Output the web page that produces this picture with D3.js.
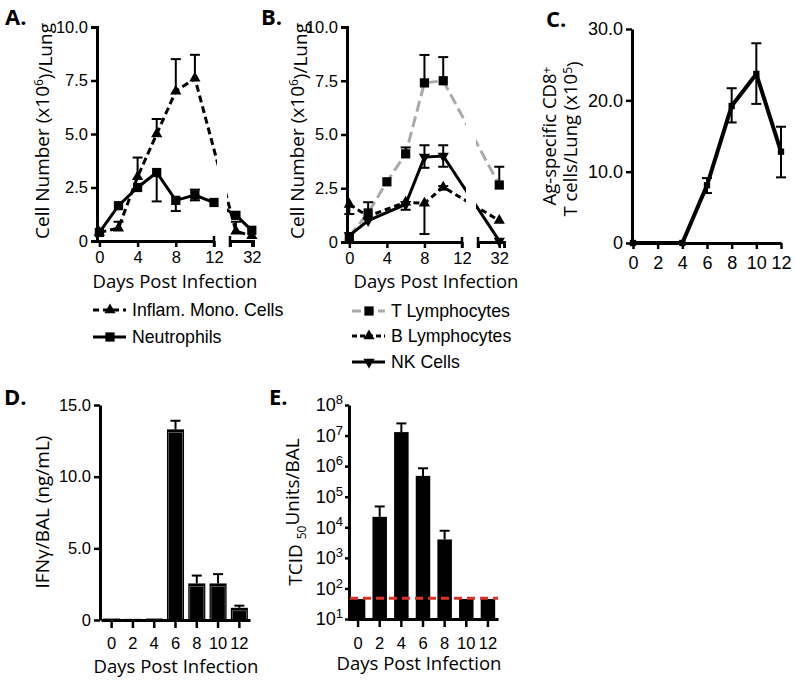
<!DOCTYPE html>
<html>
<head>
<meta charset="utf-8">
<script src="https://cdn.jsdelivr.net/npm/d3@7"></script>
<style>
  body { margin: 0; background: #fff; }
  svg { display: block; }
</style>
</head>
<body>
<div id="chart"></div>
<script>
// ---- Panel A: inflammatory cells ----
const daysMonoA = [0, 2, 4, 6, 8, 10, 28, 32];
const monoA     = [0.4, 0.6, 3.0, 5.0, 7.0, 7.6, 0.45, 0.25];
const monoA_lo  = [0.4, 0.6, 3.0, 5.0, 7.0, 7.6, 0.45, 0.25];
const monoA_hi  = [0.4, 0.9, 3.9, 5.7, 8.5, 8.7, 0.9, 0.25];
const daysNeuA  = [0, 2, 4, 6, 8, 10, 12, 28, 32];
const neuA      = [0.4, 1.65, 2.5, 3.2, 1.9, 2.15, 1.8, 1.2, 0.5];
const neuA_lo   = [0.4, 1.65, 2.5, 1.85, 1.4, 1.9, 1.8, 1.2, 0.5];
const neuA_hi   = [0.4, 1.65, 2.5, 3.2, 1.9, 2.4, 1.8, 1.2, 0.5];

// ---- Panel B: lymphocytes ----
const daysTB = [0, 2, 4, 6, 8, 10, 32];
const tB     = [0.25, 1.35, 2.8, 4.1, 7.4, 7.5, 2.65];
const tB_lo  = [0.25, 1.35, 2.8, 4.1, 7.4, 7.5, 2.65];
const tB_hi  = [0.25, 1.85, 2.8, 4.4, 8.7, 8.6, 3.5];
const daysOtherB = [0, 2, 6, 8, 10, 32];
const bB     = [1.75, 1.2, 1.85, 1.8, 2.55, 1.0];
const bB_lo  = [1.3, 1.2, 1.85, 0.37, 2.45, 1.0];
const bB_hi  = [1.75, 1.2, 1.85, 1.8, 2.6, 1.0];
const nkB    = [0.3, 1.0, 1.75, 3.95, 4.0, 0.05];
const nkB_lo = [0.3, 1.0, 1.5, 3.45, 3.5, 0.05];
const nkB_hi = [0.3, 1.0, 1.75, 4.5, 4.5, 0.05];

const cellTicks = [0, 2.5, 5, 7.5, 10];
const leftDayTicks = [0, 4, 8, 12];
const rightDayTicks = [32];

// ---- Panel C: Ag-specific CD8+ ----
const daysC  = [0, 4, 6, 8, 10, 12];
const cd8C    = [0, 0, 8.1, 19.2, 23.7, 12.8];
const cd8C_lo = [0, 0, 7.0, 16.9, 19.5, 9.2];
const cd8C_hi = [0, 0, 9.1, 21.7, 28.0, 16.3];
const cd8Ticks = [0, 10, 20, 30];
const dayTicksC = [0, 2, 4, 6, 8, 10, 12];

// ---- Panel D: IFNg ----
const daysD  = ["0", "2", "4", "6", "8", "10", "12"];
const ifnD    = [0.1, 0.08, 0.1, 13.3, 2.55, 2.55, 0.85];
const ifnD_hi = [0.1, 0.08, 0.1, 13.9, 3.1, 3.2, 1.0];
const ifnTicks = [0, 5, 10, 15];

// ---- Panel E: TCID50 ----
const daysE  = ["0", "2", "4", "6", "8", "10", "12"];
const tcidE    = [45, 2.2e4, 1.3e7, 4.8e5, 4.0e3, 45, 45];
const tcidE_hi = [45, 4.8e4, 2.5e7, 8.5e5, 7.7e3, 45, 45];
const detectE  = 48;
const tcidTicks = [1e1, 1e2, 1e3, 1e4, 1e5, 1e6, 1e7, 1e8];

const tickFont = "Liberation Sans, Arial, sans-serif";
const titleFont = "Open Sans, sans-serif";

const svg = d3.select("#chart").append("svg")
    .attr("width", 794)
    .attr("height", 686);

function styleAxis(sel, size) {
    sel.attr("font-family", tickFont).attr("font-size", size);
    sel.select(".domain").attr("stroke-width", 3).attr("stroke", "#000");
    sel.selectAll(".tick line").attr("stroke-width", 2.5).attr("stroke", "#000");
    sel.selectAll(".tick text").attr("fill", "#000");
}

function panelLabel(txt, x, y) {
    svg.append("text").attr("x", x).attr("y", y)
        .attr("font-family", titleFont).attr("font-weight", "bold")
        .attr("font-size", 22).text(txt);
}

function xTitle(x, y) {
    svg.append("text").attr("x", x).attr("y", y)
        .attr("text-anchor", "middle")
        .attr("font-family", titleFont).attr("font-size", 18.5)
        .text("Days Post Infection");
}

// rotated axis title
function yTitle(x, y, size) {
    return svg.append("text")
        .attr("transform", `translate(${x},${y}) rotate(-90)`)
        .attr("text-anchor", "middle")
        .attr("dy", "0.35em")
        .attr("font-family", titleFont).attr("font-size", size || 19);
}

function marker(g, type, x, y, fill) {
    let sym, size;
    if (type === "square") { sym = d3.symbolSquare; size = 85; }
    else if (type === "small") { sym = d3.symbolSquare; size = 40; }
    else { sym = d3.symbolTriangle; size = 55; }
    g.append("path")
        .attr("d", d3.symbol().type(sym).size(size)())
        .attr("transform", `translate(${x},${y})` + (type === "down" ? " rotate(180)" : ""))
        .attr("fill", fill);
}

function errorBars(g, xf, y, days, lo, hi, vals) {
    days.forEach((d, i) => {
        const x = xf(d);
        [hi[i], lo[i]].forEach(v => {
            if (Math.abs(v - vals[i]) < 1e-9) return;
            g.append("line").attr("x1", x).attr("x2", x)
                .attr("y1", y(vals[i])).attr("y2", y(v))
                .attr("stroke", "#000").attr("stroke-width", 2);
            g.append("line").attr("x1", x - 5).attr("x2", x + 5)
                .attr("y1", y(v)).attr("y2", y(v))
                .attr("stroke", "#000").attr("stroke-width", 2);
        });
    });
}

function seriesLine(g, xf, y, days, vals, color, dash, width) {
    const line = d3.line().x((v, i) => xf(days[i])).y(v => y(v));
    g.append("path").datum(vals)
        .attr("d", line)
        .attr("fill", "none")
        .attr("stroke", color)
        .attr("stroke-width", width || 3)
        .attr("stroke-dasharray", dash || null);
}

function legendRow(x, y, type, color, dash, label) {
    const g = svg.append("g");
    g.append("line").attr("x1", x).attr("x2", x + 33).attr("y1", y).attr("y2", y)
        .attr("stroke", color).attr("stroke-width", 3)
        .attr("stroke-dasharray", dash || null);
    marker(g, type, x + 17, y, "#000");
    g.append("text").attr("x", x + 39).attr("y", y + 6)
        .attr("font-family", tickFont).attr("font-size", 17.7).text(label);
}

function cellTitle(x) {
    const t = yTitle(x, 131);
    t.append("tspan").text("Cell Number (x10");
    t.append("tspan").attr("dy", "-0.45em").attr("font-size", 12).text("6");
    t.append("tspan").attr("dy", "0.45em").text(")/Lung");
}

// panel with a broken day axis (0-12 | 32)
function brokenPanel(o) {
    const g = svg.append("g");
    const y = d3.scaleLinear().domain([0, 10]).range([o.y0, o.y1]);
    const xl = d3.scaleLinear().domain([-0.25, 12]).range(o.left);
    const xr = d3.scaleLinear().domain(o.rightDom).range(o.right);
    const xf = d => d <= 12 ? xl(d) : xr(d);

    g.append("g").attr("transform", `translate(${o.left[0]},0)`)
        .call(d3.axisLeft(y).tickValues(cellTicks).tickSizeOuter(0).tickSize(6).tickPadding(3)
            .tickFormat(d => d === 0 ? "0" : d.toFixed(1)))
        .call(s => styleAxis(s, 16.5));
    g.append("g").attr("transform", `translate(0,${o.y0})`)
        .call(d3.axisBottom(xl).tickValues(leftDayTicks).tickSize(6).tickSizeOuter(0).tickPadding(4)
            .tickFormat(d3.format("d")))
        .call(s => styleAxis(s, 16.5));
    g.append("g").attr("transform", `translate(0,${o.y0})`)
        .call(d3.axisBottom(xr).tickValues(rightDayTicks).tickSize(6).tickSizeOuter(6).tickPadding(4)
            .tickFormat(d3.format("d")))
        .call(s => styleAxis(s, 16.5));
    // end caps at the break
    g.append("line").attr("x1", xl(12)).attr("x2", xl(12))
        .attr("y1", o.y0 - 5).attr("y2", o.y0 + 6).attr("stroke", "#000").attr("stroke-width", 2.5);
    g.append("line").attr("x1", o.right[0]).attr("x2", o.right[0])
        .attr("y1", o.y0 - 5).attr("y2", o.y0 + 6).attr("stroke", "#000").attr("stroke-width", 2.5);

    o.series.forEach(s => seriesLine(g, xf, y, s.days, s.vals, s.color, s.dash));
    // white gap where the axis is broken
    g.append("rect").attr("x", o.gap[0]).attr("width", o.gap[1] - o.gap[0])
        .attr("y", o.y1 - 5).attr("height", o.y0 - o.y1 + 2).attr("fill", "#fff");
    o.series.forEach(s => errorBars(g, xf, y, s.days, s.lo, s.hi, s.vals));
    o.series.forEach(s => s.days.forEach((d, i) => marker(g, s.type, xf(d), y(s.vals[i]), "#000")));
}

// ---- A ----
panelLabel("A.", 5, 25);
brokenPanel({
    y0: 241, y1: 27, left: [97, 214], right: [230, 253], rightDom: [26.5, 32.3], gap: [217, 227],
    series: [
        { days: daysNeuA, vals: neuA, lo: neuA_lo, hi: neuA_hi, color: "#000", type: "square" },
        { days: daysMonoA, vals: monoA, lo: monoA_lo, hi: monoA_hi, color: "#000", dash: "7,4", type: "up" }
    ]
});
cellTitle(42);
xTitle(175, 288);
legendRow(93, 310, "up", "#000", "6,4", "Inflam. Mono. Cells");
legendRow(93, 337, "square", "#000", null, "Neutrophils");

// ---- B ----
panelLabel("B.", 261, 25);
brokenPanel({
    y0: 242, y1: 27, left: [347, 462], right: [478, 504], rightDom: [27.5, 33], gap: [466, 476],
    series: [
        { days: daysTB, vals: tB, lo: tB_lo, hi: tB_hi, color: "#aaa", dash: "11,5", type: "square" },
        { days: daysOtherB, vals: bB, lo: bB_lo, hi: bB_hi, color: "#000", dash: "6,4", type: "up" },
        { days: daysOtherB, vals: nkB, lo: nkB_lo, hi: nkB_hi, color: "#000", type: "down" }
    ]
});
cellTitle(297);
xTitle(436, 288);
legendRow(352, 311, "square", "#aaa", "9,4", "T Lymphocytes");
legendRow(352, 336, "up", "#000", "5,3", "B Lymphocytes");
legendRow(352, 362, "down", "#000", null, "NK Cells");

// ---- C ----
panelLabel("C.", 546, 27);
(function () {
    const g = svg.append("g");
    const y = d3.scaleLinear().domain([0, 30]).range([243, 29]);
    const x = d3.scaleLinear().domain([0, 12]).range([633, 781]);
    g.append("g").attr("transform", "translate(632,0)")
        .call(d3.axisLeft(y).tickValues(cd8Ticks).tickSize(6).tickSizeOuter(0).tickPadding(3)
            .tickFormat(d => d === 0 ? "0" : d.toFixed(1)))
        .call(s => styleAxis(s, 18));
    g.append("g").attr("transform", "translate(0,243)")
        .call(d3.axisBottom(x).tickValues(dayTicksC).tickSize(6).tickSizeOuter(0).tickPadding(7))
        .call(s => styleAxis(s, 18));
    seriesLine(g, x, y, daysC, cd8C, "#000", null, 4);
    errorBars(g, x, y, daysC, cd8C_lo, cd8C_hi, cd8C);
    daysC.forEach((d, i) => marker(g, "small", x(d), y(cd8C[i]), "#000"));
    const t1 = yTitle(550, 136, 18.5);
    t1.append("tspan").text("Ag-specific CD8");
    t1.append("tspan").attr("dy", "-0.45em").attr("font-size", 12).text("+");
    const t2 = yTitle(571, 139, 18.5);
    t2.append("tspan").text("T cells/Lung (x10");
    t2.append("tspan").attr("dy", "-0.45em").attr("font-size", 12).text("5");
    t2.append("tspan").attr("dy", "0.45em").text(")");
})();

// ---- D ----
panelLabel("D.", 4, 405);
(function () {
    const g = svg.append("g");
    const y = d3.scaleLinear().domain([0, 15]).range([620, 405]);
    const x = d3.scaleBand().domain(daysD).range([101, 250]).paddingInner(0.2).paddingOuter(0.1);
    g.append("g").attr("transform", "translate(100,0)")
        .call(d3.axisLeft(y).tickValues(ifnTicks).tickSize(6).tickSizeOuter(0).tickPadding(3)
            .tickFormat(d => d === 0 ? "0" : d.toFixed(1)))
        .call(s => styleAxis(s, 16.5));
    daysD.forEach((d, i) => {
        const cx = x(d) + x.bandwidth() / 2;
        if (ifnD_hi[i] > ifnD[i]) {
            g.append("line").attr("x1", cx).attr("x2", cx).attr("y1", y(ifnD[i])).attr("y2", y(ifnD_hi[i]))
                .attr("stroke", "#000").attr("stroke-width", 2);
            g.append("line").attr("x1", cx - 5).attr("x2", cx + 5).attr("y1", y(ifnD_hi[i])).attr("y2", y(ifnD_hi[i]))
                .attr("stroke", "#000").attr("stroke-width", 2);
        }
        g.append("rect").attr("x", x(d)).attr("width", x.bandwidth())
            .attr("y", y(ifnD[i])).attr("height", y(0) - y(ifnD[i])).attr("fill", "#000");
        if (ifnD[i] > 0.5) {
            g.append("rect").attr("x", x(d) + 1.5).attr("width", x.bandwidth() - 3)
                .attr("y", y(ifnD[i]) + 3).attr("height", y(0) - y(ifnD[i]) - 3)
                .attr("fill", "none").attr("stroke", "#777").attr("stroke-width", 0.7);
        }
    });
    g.append("g").attr("transform", "translate(0,620)")
        .call(d3.axisBottom(x).tickSize(8).tickSizeOuter(0).tickPadding(9))
        .call(s => styleAxis(s, 16.5));
    yTitle(42, 512, 19).text("IFNγ/BAL (ng/mL)");
    xTitle(176, 673);
})();

// ---- E ----
panelLabel("E.", 269, 405);
(function () {
    const g = svg.append("g");
    const y = d3.scaleLog().domain([10, 1e8]).range([619, 405]);
    const x = d3.scaleBand().domain(daysE).range([348, 498]).paddingInner(0.33).paddingOuter(0.13);
    const ax = g.append("g").attr("transform", "translate(349,0)")
        .call(d3.axisLeft(y).tickValues(tcidTicks).tickSize(4).tickSizeOuter(0).tickPadding(2)
            .tickFormat(() => ""))
        .call(s => styleAxis(s, 18));
    ax.selectAll(".tick text").each(function (d) {
        const t = d3.select(this);
        t.append("tspan").text("10");
        t.append("tspan").attr("dy", "-0.55em").attr("font-size", 13).text(Math.round(Math.log10(d)));
    });
    daysE.forEach((d, i) => {
        const cx = x(d) + x.bandwidth() / 2;
        if (tcidE_hi[i] > tcidE[i]) {
            g.append("line").attr("x1", cx).attr("x2", cx).attr("y1", y(tcidE[i])).attr("y2", y(tcidE_hi[i]))
                .attr("stroke", "#000").attr("stroke-width", 2);
            g.append("line").attr("x1", cx - 5).attr("x2", cx + 5).attr("y1", y(tcidE_hi[i])).attr("y2", y(tcidE_hi[i]))
                .attr("stroke", "#000").attr("stroke-width", 2);
        }
        g.append("rect").attr("x", x(d)).attr("width", x.bandwidth())
            .attr("y", y(tcidE[i])).attr("height", y(10) - y(tcidE[i])).attr("fill", "#000");
    });
    g.append("g").attr("transform", "translate(0,619)")
        .call(d3.axisBottom(x).tickSize(8).tickSizeOuter(0).tickPadding(10))
        .call(s => styleAxis(s, 16.5));
    // detection limit
    g.append("line").attr("x1", 350).attr("x2", 498).attr("y1", y(detectE)).attr("y2", y(detectE))
        .attr("stroke", "#e0302a").attr("stroke-width", 3).attr("stroke-dasharray", "8,5");
    const t = yTitle(295, 512, 19);
    t.append("tspan").text("TCID ");
    t.append("tspan").attr("font-size", 12).attr("dy", "0.35em").text("50");
    t.append("tspan").attr("dy", "-0.35em").text("Units/BAL");
    xTitle(419, 670);
})();
</script>
</body>
</html>
